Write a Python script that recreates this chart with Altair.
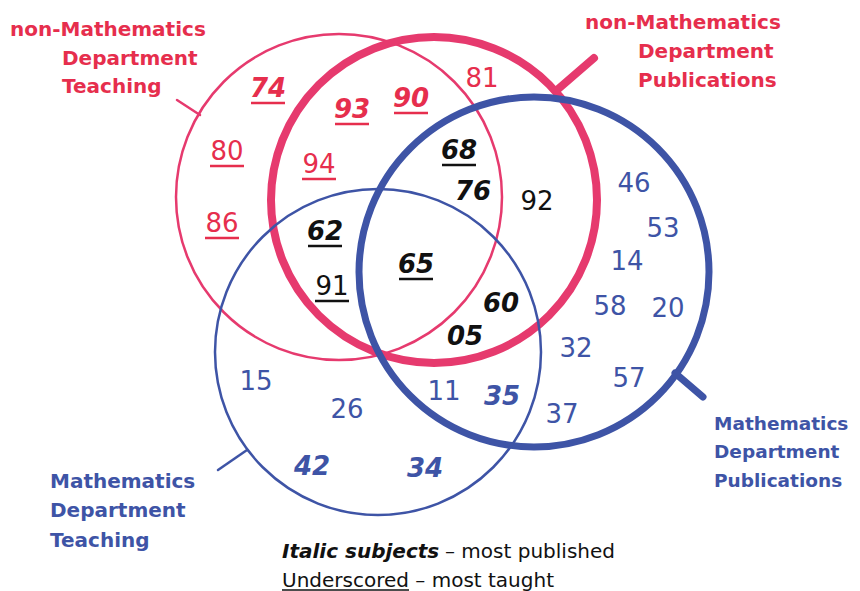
import altair as alt
import pandas as pd

PINK = "#E63A6E"
RED = "#E62E4D"
BLUE = "#3E54A6"
BLACK = "#111111"

# ---- circles (centre x, centre y, radius in picture pixels) ----
circle_name = ["nonMathTeaching", "nonMathPublications", "MathPublications", "MathTeaching"]
circle_cx = [339, 434, 534, 378]
circle_cy = [197, 200, 272, 352]
circle_r = [163, 163, 175, 163]
circle_w = [2.5, 8, 7, 2.5]
circle_col = [PINK, PINK, BLUE, BLUE]

# ---- label ticks ----
tick_x1 = [200, 557, 675, 247]
tick_y1 = [115, 90, 373, 450]
tick_x2 = [177, 594, 703, 218]
tick_y2 = [100, 58, 397, 470]
tick_w = [2.5, 8, 7, 2.5]
tick_col = [PINK, PINK, BLUE, BLUE]

# ---- subject numbers ----
num_text = ["74", "80", "86", "93", "90", "94", "81",
            "68", "76", "92", "62", "91", "65", "60", "05",
            "46", "53", "14", "58", "20", "32", "57",
            "15", "26", "11", "35", "37", "42", "34"]
num_x = [268, 227, 222, 352, 411, 319, 482,
         459, 473, 537, 325, 332, 416, 501, 465,
         634, 663, 627, 610, 668, 576, 629,
         256, 347, 444, 502, 562, 312, 425]
num_y = [97, 160, 232, 118, 107, 173, 87,
         159, 200, 210, 240, 295, 273, 312, 345,
         192, 237, 270, 315, 317, 357, 387,
         390, 418, 400, 405, 423, 475, 477]
num_italic = [1, 0, 0, 1, 1, 0, 0,
              1, 1, 0, 1, 0, 1, 1, 1,
              0, 0, 0, 0, 0, 0, 0,
              0, 0, 0, 1, 0, 1, 1]
num_under = [1, 1, 1, 1, 1, 1, 0,
             1, 0, 0, 1, 1, 1, 0, 0,
             0, 0, 0, 0, 0, 0, 0,
             0, 0, 0, 0, 0, 0, 0]
num_col = [RED] * 7 + [BLACK] * 8 + [BLUE] * 14

# ---- set labels ----
lab_text = ["non-Mathematics", "Department", "Teaching",
            "non-Mathematics", "Department", "Publications",
            "Mathematics", "Department", "Teaching",
            "Mathematics", "Department", "Publications"]
lab_x = [10, 62, 62, 585, 638, 638, 50, 50, 50, 714, 714, 714]
lab_y = [36, 65, 93, 29, 58, 87, 488, 517, 547, 430, 458, 487]
lab_size = [20, 20, 20, 20, 20, 20, 20, 20, 20, 18.5, 18.5, 18.5]
lab_col = [RED] * 6 + [BLUE] * 6

# ---- key ----
key_text = ["Italic subjects", "\u2013 most published", "Underscored \u2013 most taught"]
key_x = [282, 445, 282]
key_y = [558, 558, 587]
key_style = ["bi", "r", "r"]
key_ul_x1 = [282]
key_ul_x2 = [409]
key_ul_y = [590]

circles = pd.DataFrame({"name": circle_name, "cx": circle_cx, "cy": circle_cy,
                        "r": circle_r, "w": circle_w, "col": circle_col})
circles["size"] = (2 * circles["r"]) ** 2
ticks = pd.DataFrame({"x1": tick_x1, "y1": tick_y1, "x2": tick_x2, "y2": tick_y2,
                      "w": tick_w, "col": tick_col})
nums = pd.DataFrame({"t": num_text, "x": num_x, "y": num_y, "it": num_italic,
                     "ul": num_under, "col": num_col})
labs = pd.DataFrame({"t": lab_text, "x": lab_x, "y": lab_y, "fs": lab_size, "col": lab_col})
keys = pd.DataFrame({"t": key_text, "x": key_x, "y": key_y, "s": key_style})
key_ul = pd.DataFrame({"x1": key_ul_x1, "x2": key_ul_x2, "y": key_ul_y})

W, H = 844, 583
xs = alt.Scale(domain=[8, 8 + W], nice=False, zero=False)
ys = alt.Scale(domain=[8, 8 + H], nice=False, zero=False, reverse=True)
X = lambda f: alt.X(f, scale=xs, axis=None)
Y = lambda f: alt.Y(f, scale=ys, axis=None)

circ = alt.Chart(circles).mark_point(shape="circle", filled=False, opacity=1).encode(
    x=X("cx:Q"), y=Y("cy:Q"),
    size=alt.Size("size:Q", scale=None),
    strokeWidth=alt.StrokeWidth("w:Q", scale=None),
    color=alt.Color("col:N", scale=None),
)

tick = alt.Chart(ticks).mark_rule(strokeCap="round").encode(
    x=X("x1:Q"), y=Y("y1:Q"), x2="x2:Q", y2="y2:Q",
    strokeWidth=alt.StrokeWidth("w:Q", scale=None),
    color=alt.Color("col:N", scale=None),
)

num_reg = alt.Chart(nums).transform_filter("datum.it == 0").mark_text(
    font="DejaVu Sans", fontSize=26, align="center", baseline="alphabetic"
).encode(x=X("x:Q"), y=Y("y:Q"), text="t:N", color=alt.Color("col:N", scale=None))

num_it = alt.Chart(nums).transform_filter("datum.it == 1").mark_text(
    font="DejaVu Sans", fontSize=26, fontStyle="italic", fontWeight="bold",
    align="center", baseline="alphabetic"
).encode(x=X("x:Q"), y=Y("y:Q"), text="t:N", color=alt.Color("col:N", scale=None))

num_ul = alt.Chart(nums).transform_filter("datum.ul == 1").transform_calculate(
    xa="datum.x - 17", xb="datum.x + 17", yu="datum.y + 6"
).mark_rule(strokeWidth=2.5).encode(
    x=X("xa:Q"), x2="xb:Q", y=Y("yu:Q"), color=alt.Color("col:N", scale=None)
)

lab = alt.Chart(labs).mark_text(
    font="DejaVu Sans", fontWeight="bold", align="left", baseline="alphabetic"
).encode(x=X("x:Q"), y=Y("y:Q"), text="t:N",
         size=alt.Size("fs:Q", scale=None),
         color=alt.Color("col:N", scale=None))

key_bi = alt.Chart(keys).transform_filter("datum.s == 'bi'").mark_text(
    font="DejaVu Sans", fontSize=20, fontWeight="bold", fontStyle="italic",
    align="left", baseline="alphabetic", color=BLACK
).encode(x=X("x:Q"), y=Y("y:Q"), text="t:N")

key_r = alt.Chart(keys).transform_filter("datum.s == 'r'").mark_text(
    font="DejaVu Sans", fontSize=20, align="left", baseline="alphabetic", color=BLACK
).encode(x=X("x:Q"), y=Y("y:Q"), text="t:N")

key_line = alt.Chart(key_ul).mark_rule(strokeWidth=1.5, color=BLACK).encode(
    x=X("x1:Q"), x2="x2:Q", y=Y("y:Q")
)

chart = alt.layer(circ, tick, num_ul, num_reg, num_it, lab, key_bi, key_r, key_line).properties(
    width=W, height=H, padding=0, autosize=alt.AutoSizeParams(type="none"),
    background="white",
).configure_view(stroke=None)

chart.save("out.html", embed_options={"renderer": "svg", "actions": False})
